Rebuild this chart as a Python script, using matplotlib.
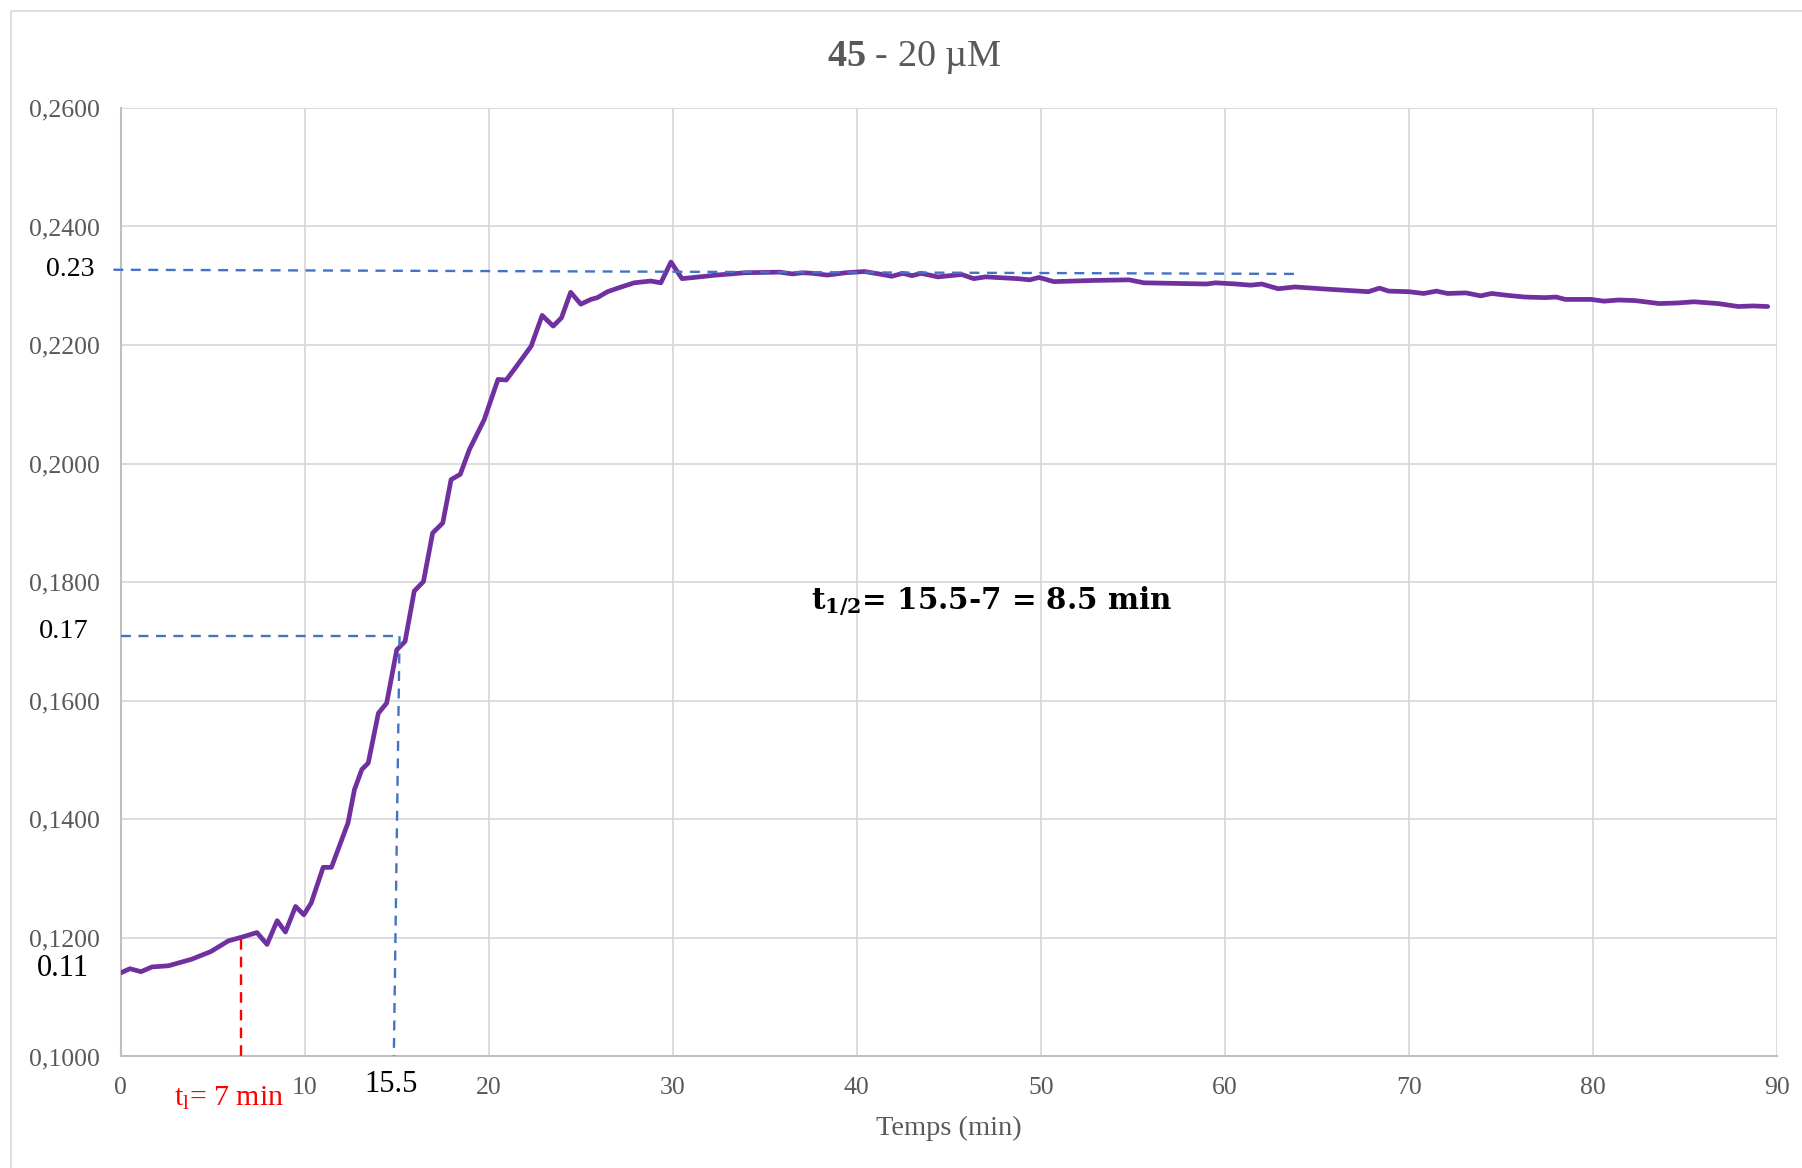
import numpy as np
import matplotlib
matplotlib.use("Agg")
import matplotlib.pyplot as plt
from matplotlib.patches import Rectangle

plt.rcParams['font.family'] = ['Liberation Serif', 'DejaVu Serif']
plt.rcParams['mathtext.fontset'] = 'custom'
plt.rcParams['mathtext.rm'] = 'Liberation Serif'
plt.rcParams['mathtext.it'] = 'Liberation Serif:italic'
plt.rcParams['mathtext.bf'] = 'Liberation Serif:bold'

# absorbance vs time
t_min = [0, 0.5, 1.1, 1.7, 2.6, 3.85, 4.9, 5.85, 6.55, 7.4, 7.95, 8.5, 8.95,
         9.5, 9.95, 10.35, 11.0, 11.45, 12.35, 12.7, 13.1, 13.45, 14.0, 14.45,
         15.0, 15.45, 15.95, 16.45, 16.95, 17.5, 17.95, 18.45, 18.95, 19.75,
         20.5, 20.95, 21.5, 22.3, 22.9, 23.5, 23.95, 24.45, 25.0, 25.55, 25.9,
         26.45, 27.2, 27.9, 28.8, 29.35, 29.9, 30.5, 31.45, 32.35, 33.95, 35.8,
         36.5, 37.05, 37.6, 38.4, 39.4, 40.4, 41.2, 41.9, 42.5, 43.0, 43.5,
         44.4, 45.7, 46.35, 47.0, 48.75, 49.4, 49.9, 50.7, 52.9, 54.8, 55.6,
         59.0, 59.5, 60.6, 61.4, 62.0, 62.9, 63.8, 65.7, 67.8, 68.4, 68.9,
         70.0, 70.8, 71.5, 72.1, 73.1, 73.9, 74.5, 75.3, 76.3, 77.4, 78.0,
         78.5, 79.9, 80.6, 81.4, 82.3, 83.6, 84.6, 85.5, 86.8, 87.9, 88.7, 89.5]
absorb = [0.1141, 0.1148, 0.1143, 0.1151, 0.1153, 0.1164, 0.1177, 0.1195,
          0.1201, 0.1209, 0.1189, 0.1229, 0.1210, 0.1253, 0.1239, 0.1259,
          0.1319, 0.1319, 0.1394, 0.1450, 0.1484, 0.1495, 0.1579, 0.1596,
          0.1686, 0.1700, 0.1785, 0.1801, 0.1883, 0.1900, 0.1973, 0.1982,
          0.2024, 0.2074, 0.2142, 0.2141, 0.2164, 0.2198, 0.2250, 0.2232,
          0.2246, 0.2289, 0.2269, 0.2277, 0.2280, 0.2290, 0.2298, 0.2305,
          0.2308, 0.2305, 0.2340, 0.2312, 0.2315, 0.2318, 0.2322, 0.2323,
          0.2320, 0.2322, 0.2321, 0.2318, 0.2322, 0.2324, 0.2320, 0.2316,
          0.2321, 0.2317, 0.2321, 0.2315, 0.2319, 0.2312, 0.2315, 0.2312,
          0.2310, 0.2314, 0.2307, 0.2309, 0.2310, 0.2305, 0.2303, 0.2305,
          0.2303, 0.2301, 0.2303, 0.2295, 0.2298, 0.2294, 0.2290, 0.2296,
          0.2291, 0.2290, 0.2287, 0.2291, 0.2287, 0.2288, 0.2283, 0.2287,
          0.2284, 0.2281, 0.2280, 0.2281, 0.2277, 0.2277, 0.2274, 0.2276,
          0.2275, 0.2270, 0.2271, 0.2273, 0.2270, 0.2265, 0.2266, 0.2265]

x_ticks = [0, 10, 20, 30, 40, 50, 60, 70, 80, 90]
y_ticks = [0.10, 0.12, 0.14, 0.16, 0.18, 0.20, 0.22, 0.24, 0.26]
y_labels = ['0,1000', '0,1200', '0,1400', '0,1600', '0,1800', '0,2000',
            '0,2200', '0,2400', '0,2600']

# guide lines
plateau_x = [-0.4, 63.8]
plateau_y = [0.2327, 0.2320]
half_x = [0, 15.15]
half_y = [0.1709, 0.1709]
half_vx = [15.15, 14.84]
half_vy = [0.1709, 0.1]
lag_x = [6.53, 6.53]
lag_y = [0.1198, 0.0993]

gray = '#595959'
purple = '#7030A0'
blue = '#4472C4'

fig = plt.figure(figsize=(18.02, 11.68), dpi=100)
fig.patches.append(Rectangle((11 / 1802, -0.02), 1.1, 1 - 11 / 1168 + 0.02,
                             transform=fig.transFigure, fill=False,
                             edgecolor='#D9D9D9', lw=1.2))
ax = fig.add_axes([0.0670, 0.0955, 0.9191, 0.8121])

ax.plot(t_min, absorb, color=purple, lw=3.4, solid_capstyle='round',
        solid_joinstyle='round', zorder=3)
ax.plot(plateau_x, plateau_y, color=blue, lw=1.7, dashes=(4.2, 3.2),
        clip_on=False, zorder=4)
ax.plot(half_x, half_y, color=blue, lw=1.7, dashes=(4.2, 3.2), zorder=4)
ax.plot(half_vx, half_vy, color=blue, lw=1.7, dashes=(4.2, 3.2), zorder=4)
ax.plot(lag_x, lag_y, color='#FF0000', lw=1.7, dashes=(4.5, 3.0),
        clip_on=False, zorder=4)

ax.set_xlim(0, 90)
ax.set_ylim(0.10, 0.26)
ax.set_xticks(x_ticks)
ax.set_yticks(y_ticks)
ax.set_yticklabels(y_labels)
ax.tick_params(length=0, labelsize=18.5, labelcolor=gray)
ax.tick_params(axis='y', pad=15)
ax.tick_params(axis='x', pad=15)
ax.grid(True, color='#D9D9D9', lw=1.3)
ax.set_axisbelow(True)
for side in ['top', 'right']:
    ax.spines[side].set_visible(False)
for side in ['left', 'bottom']:
    ax.spines[side].set_color('#BFBFBF')
    ax.spines[side].set_linewidth(1.5)

ax.set_xlabel('Temps (min)', fontsize=20.5, color=gray, labelpad=12)
fig.text(914 / 1802, 1 - 57 / 1168, r'$\mathbf{45}$ - 20 µM', fontsize=27.5,
         color=gray, ha='center', va='center')

# annotations
ax.text(-1.45, 0.2328, '0.23', fontsize=20, ha='right', va='center',
        color='black', clip_on=False)
ax.text(-1.75, 0.1717, '0.17', fontsize=20.5, ha='right', va='center',
        color='black', clip_on=False)
ax.text(-1.75, 0.1149, '0.11', fontsize=22, ha='right', va='center',
        color='black', clip_on=False)
ax.text(14.7, 0.0952, '15.5', fontsize=22, ha='center', va='center',
        color='black', clip_on=False)
ax.text(5.88, 0.0929, r'$\mathrm{t_{l}}$= 7 min', fontsize=21.5, ha='center',
        va='center', color='#FF0000', clip_on=False)
ax.text(37.5, 0.1768, r'$\mathbf{t_{1/2}}$= 15.5-7 = 8.5 min', fontsize=21.2,
        fontweight='bold', family='DejaVu Serif', math_fontfamily='dejavuserif',
        ha='left', va='center', color='black')

fig.savefig('out.png', dpi=100)
